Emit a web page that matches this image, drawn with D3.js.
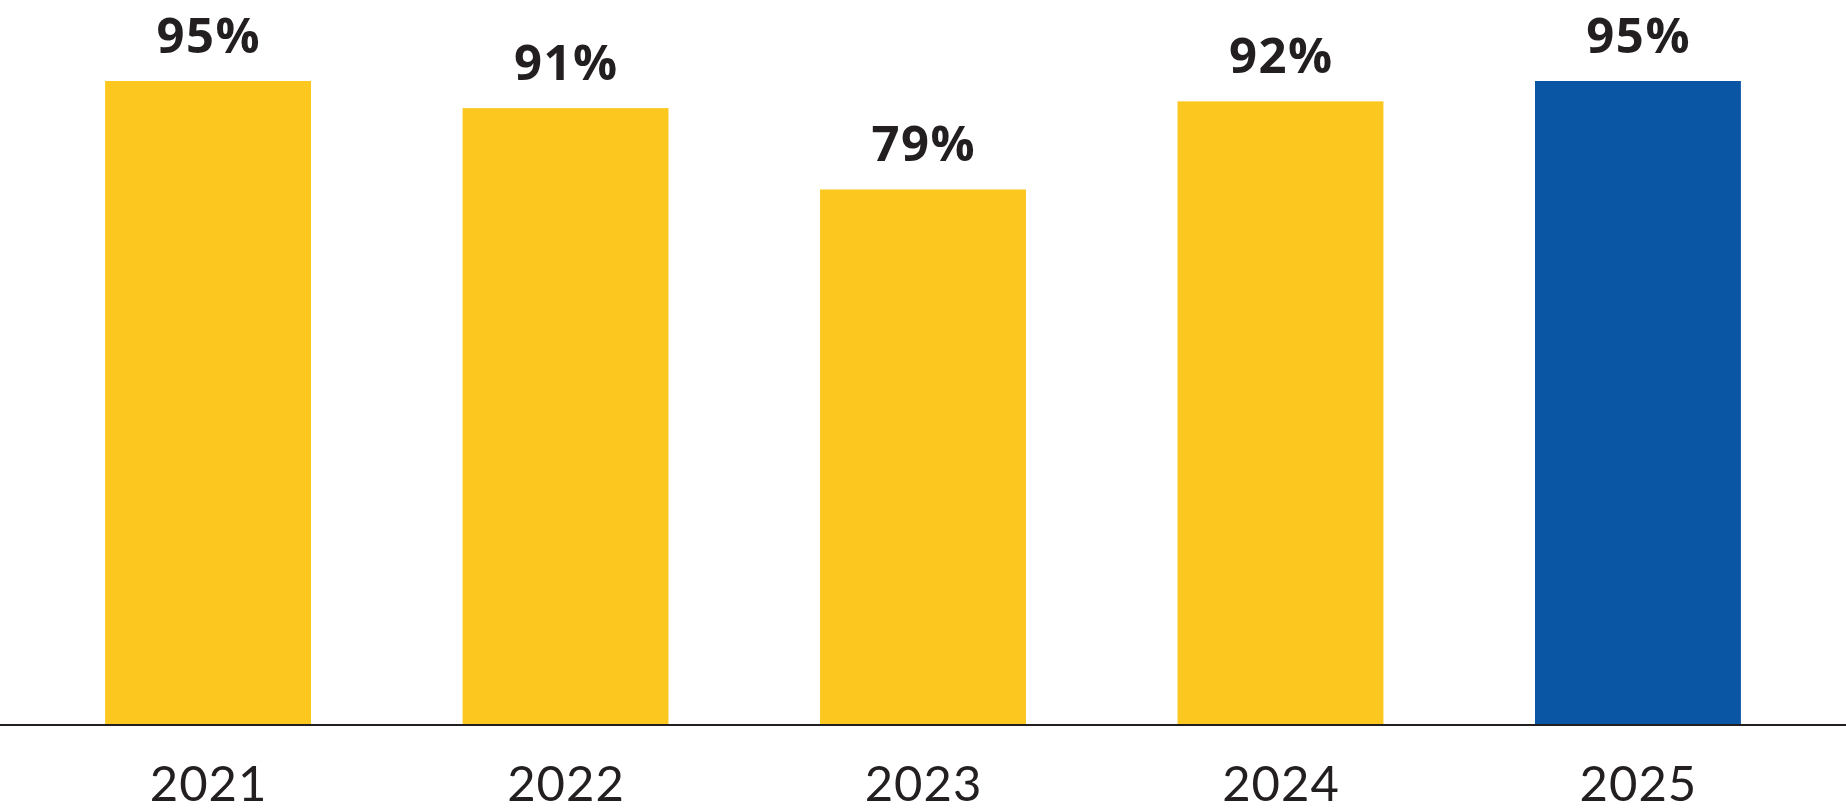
<!DOCTYPE html>
<meta charset="utf-8">
<style>
    body { margin: 0; background: #fff; }
    svg { display: block; }
    .val { font-family: "Open Sans", sans-serif; font-weight: 700; font-size: 49px; letter-spacing: 1.5px; fill: #231f20; }
    .yr { font-family: Lato, sans-serif; font-weight: 400; font-size: 49px; letter-spacing: 1px; fill: #231f20; }
</style>
<div id="my_dataviz"></div>
<script src="https://d3js.org/d3.v7.min.js"></script>
<script>

    // data
    var years = ["2021", "2022", "2023", "2024", "2025"];
    var values = [95, 91, 79, 92, 95];
    var labels = ["95%", "91%", "79%", "92%", "95%"];
    var colors = ["#fcc820", "#fcc820", "#fcc820", "#fcc820", "#0a55a4"];

    var width = 1846,
        height = 812,
        baseline = 725;

    var svg = d3.select("#my_dataviz")
        .append("svg")
        .attr("width", width)
        .attr("height", height);

    // X scale
    var x = d3.scaleBand()
        .domain(years)
        .range([0, width])
        .paddingInner(0.424)
        .paddingOuter(0.294);

    // Y scale
    var y = d3.scaleLinear()
        .domain([0, 95])
        .range([baseline, 81]);

    var data = years.map(function (d, i) {
        return { year: d, value: values[i], label: labels[i], color: colors[i] };
    });

    // Bars
    svg.selectAll("rect.bar")
        .data(data)
        .enter()
        .append("rect")
        .attr("class", "bar")
        .attr("x", function (d) { return x(d.year); })
        .attr("width", x.bandwidth())
        .attr("y", function (d) { return y(d.value); })
        .attr("height", function (d) { return baseline - y(d.value); })
        .attr("fill", function (d) { return d.color; });

    // value labels
    svg.selectAll("text.val")
        .data(data)
        .enter()
        .append("text")
        .attr("class", "val")
        .attr("x", function (d) { return x(d.year) + x.bandwidth() / 2 + 0.75; })
        .attr("y", function (d) { return y(d.value) - 28; })
        .attr("text-anchor", "middle")
        .text(function (d) { return d.label; });

    // x axis
    var xAxis = svg.append("g")
        .attr("transform", "translate(0," + baseline + ")")
        .call(d3.axisBottom(x).tickSize(0).tickPadding(0));
    xAxis.select(".domain")
        .attr("d", "M0,0H" + width)
        .attr("stroke", "#231f20")
        .attr("stroke-width", 2);
    xAxis.selectAll("text")
        .attr("class", "yr")
        .attr("fill", null)
        .attr("dy", null)
        .attr("y", 76)
        .attr("dx", 0.5);
    xAxis.attr("font-size", null).attr("font-family", null);

</script>
